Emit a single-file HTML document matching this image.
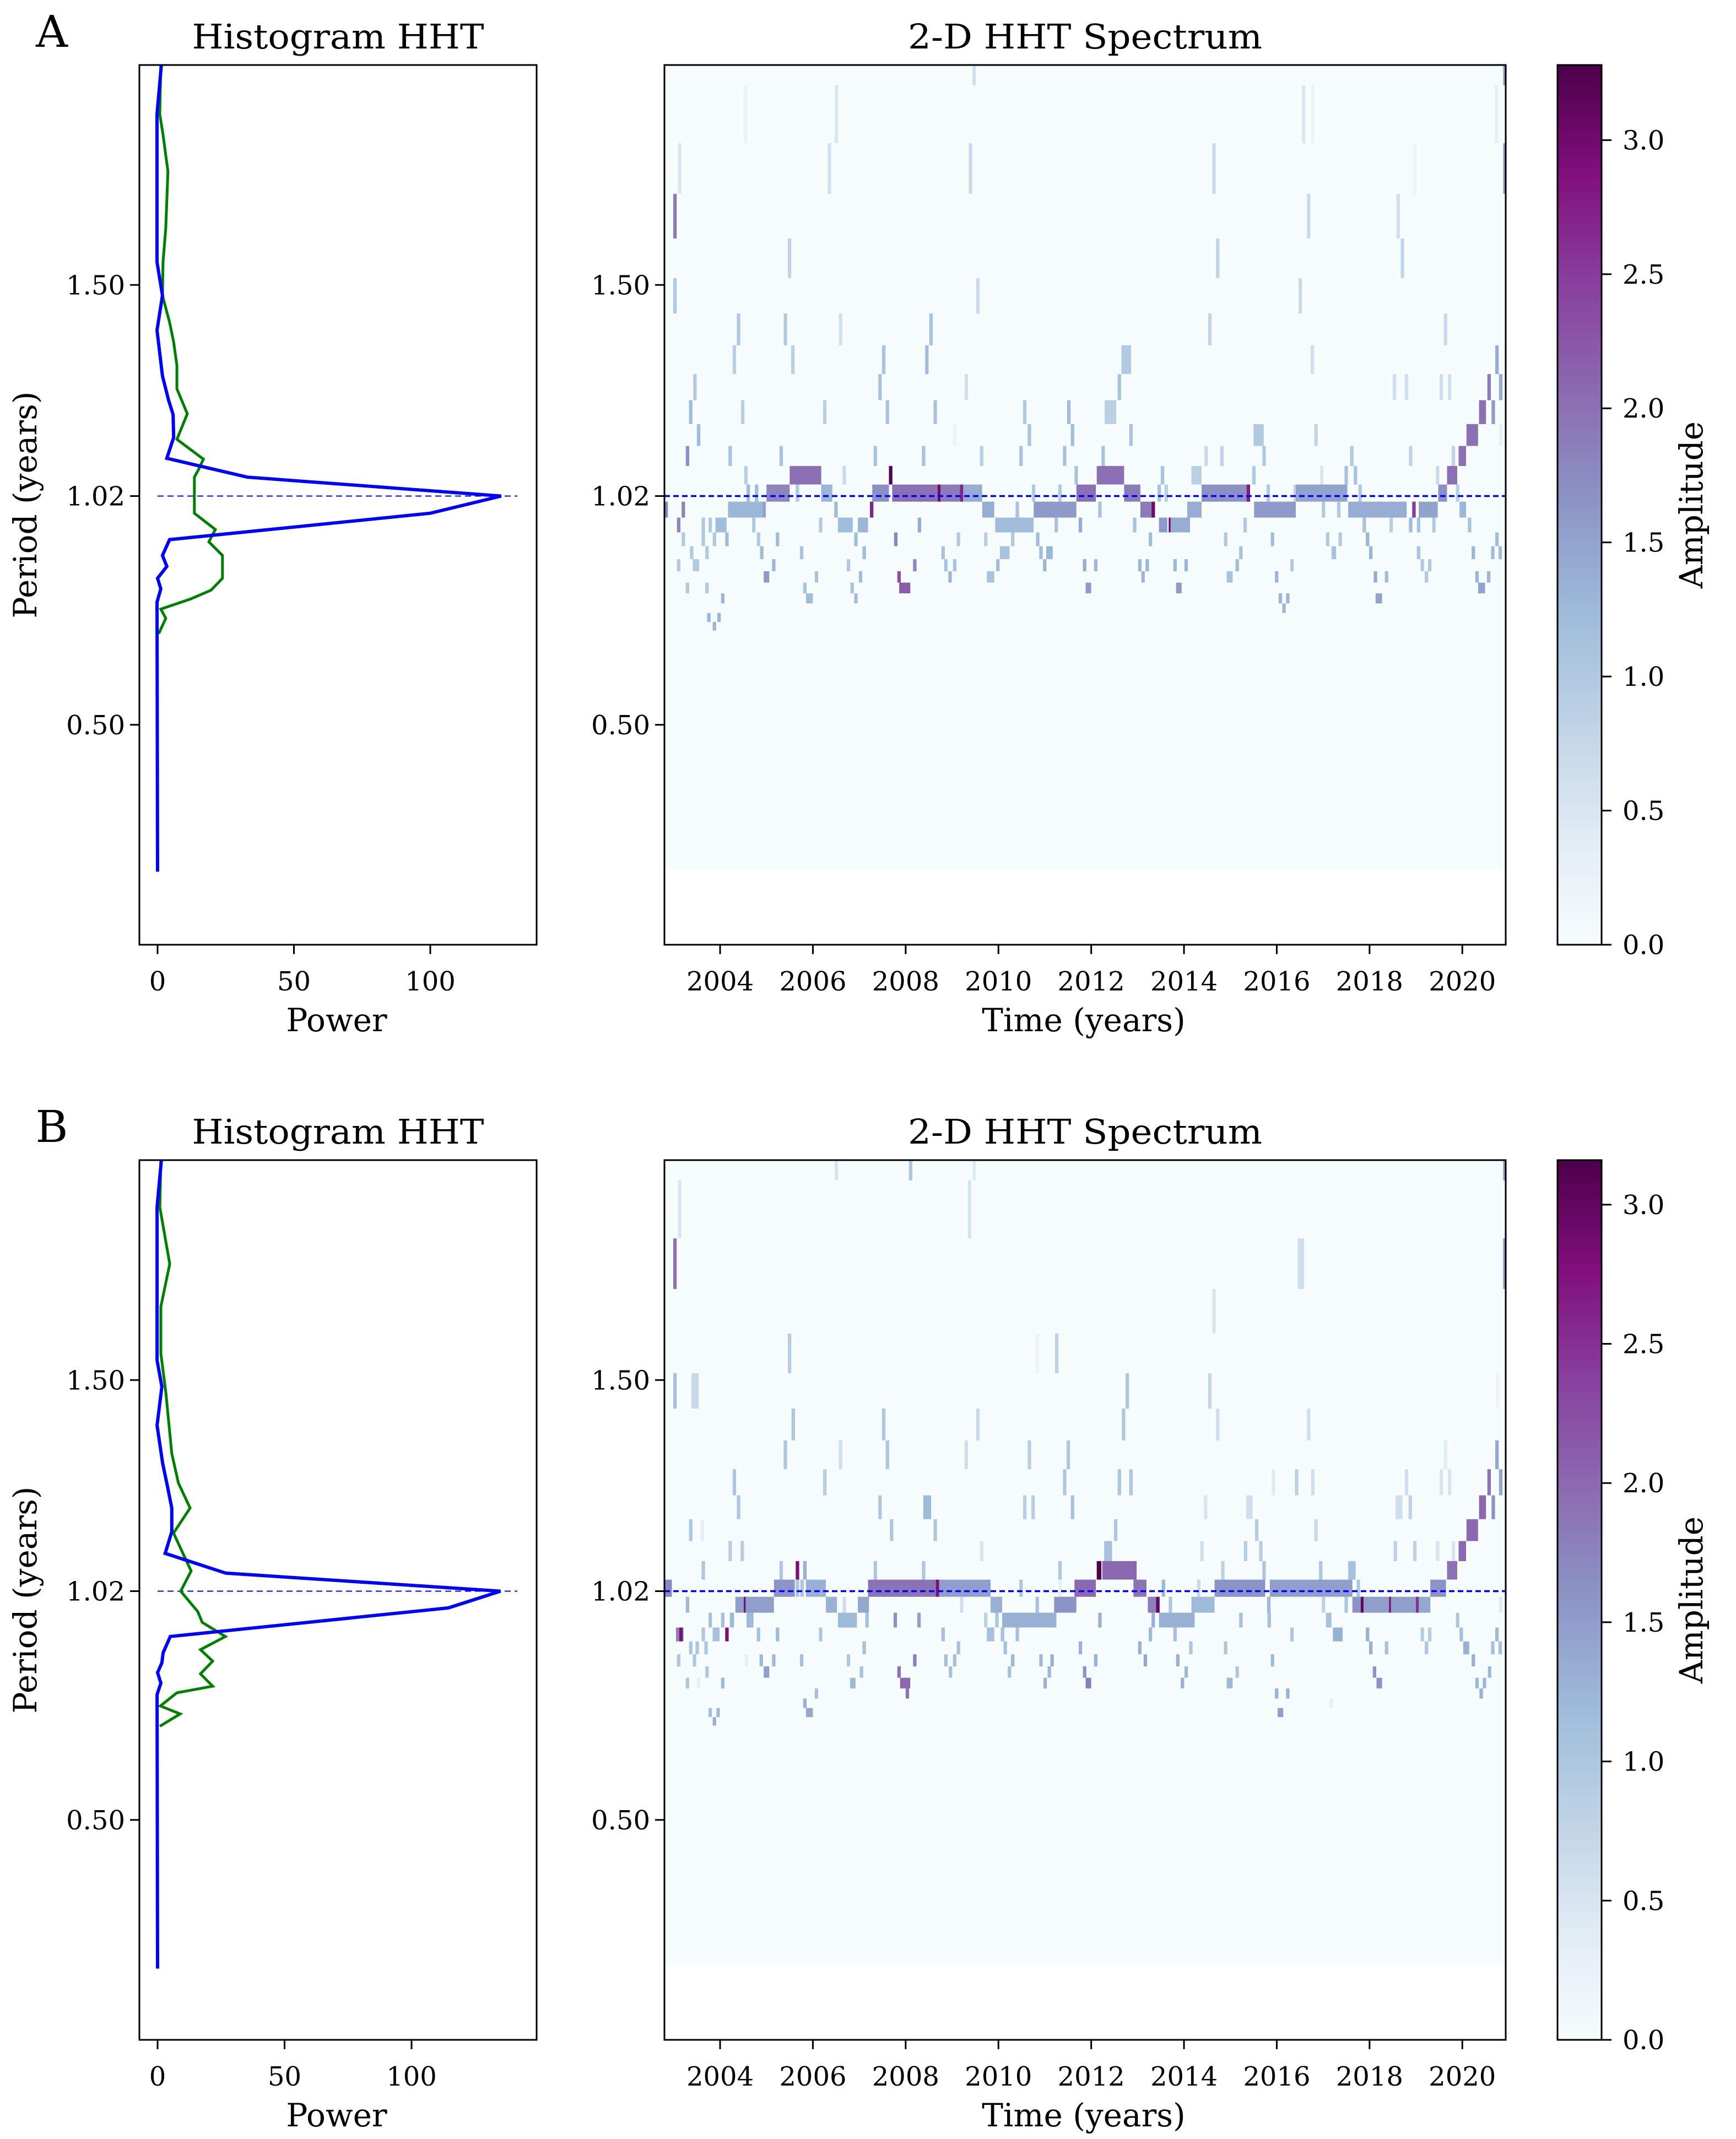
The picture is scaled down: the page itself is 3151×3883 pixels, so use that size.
<!DOCTYPE html>
<html><head><meta charset="utf-8"><title>HHT Histogram and 2-D Spectrum</title>
<style>
html,body{margin:0;padding:0;background:#fff;}
svg{display:block;font-family:"DejaVu Serif","Liberation Serif",serif;}
</style></head>
<body>
<svg id="fig" xmlns="http://www.w3.org/2000/svg" width="3151" height="3883" viewBox="0 0 3151 3883"></svg>
<script>
// ---------- data ----------
const periodTicks = [1.5, 1.02, 0.5];
const periodTickLabels = ['1.50', '1.02', '0.50'];
const powerTicks = [0, 50, 100];
const yearTicks = [2004, 2006, 2008, 2010, 2012, 2014, 2016, 2018, 2020];
const ampTicks = [0, 0.5, 1.0, 1.5, 2.0, 2.5, 3.0];
const refPeriod = 1.02;

// Histogram A
const histABlueP = [2.0,1.888,1.552,1.476,1.397,1.293,1.239,1.205,1.153,1.106,1.063,1.02,0.981,0.921,0.885,0.860,0.833,0.809,0.779,0.166];
const histABlueV = [1.4,-0.2,-0.2,1.8,-0.2,1.8,4.0,5.7,5.9,3.4,32.9,126,100,4.4,1.8,3.4,0,1.2,-0.2,0];
const histAGreenP = [2.0,1.888,1.842,1.758,1.629,1.552,1.476,1.415,1.37,1.317,1.264,1.207,1.149,1.104,1.080,1.063,0.981,0.944,0.916,0.885,0.833,0.806,0.786,0.763,0.742,0.707];
const histAGreenV = [1.2,0.8,2.0,3.8,3.0,2.0,1.8,4.4,5.9,7.1,7.1,10.9,7.1,16.8,15.0,13.5,13.5,21.2,18.8,23.8,23.8,19.6,12.1,1.2,3.0,0.4];
// Histogram B
const histBBlueP = [2.0,1.893,1.545,1.485,1.397,1.311,1.258,1.209,1.155,1.106,1.061,1.02,0.982,0.917,0.880,0.857,0.835,0.811,0.785,0.162];
const histBBlueV = [1.5,-0.2,-0.2,1.7,-0.2,2.0,3.9,5.6,5.6,3.0,26.9,135,114.5,5.0,2.2,1.7,0,1.3,-0.2,0];
const histBGreenP = [2.0,1.893,1.764,1.667,1.560,1.470,1.410,1.333,1.266,1.209,1.152,1.106,1.066,1.02,0.974,0.949,0.917,0.887,0.861,0.832,0.804,0.789,0.759,0.741,0.713];
const histBGreenV = [1.3,0.9,4.8,1.3,1.3,3.3,4.3,5.6,8.2,12.8,6.3,10.0,13.2,9.1,15.8,17.6,26.7,16.9,21.7,16.9,21.7,7.6,1.1,8.9,0.9];

// Spectrum frequency bins (cycles/yr): row r spans binF0 + r*binDF .. binF0 + (r+1)*binDF
const binF0 = 0.5118;
const binDF = 0.0370;
const spectrumMinPeriod = 0.17;

// Spectrum cells: [row, startYear, endYear (0 = single sample), amplitude]
const cellsA = [
[-1,2009.44,0,0.6],[-1,2020.88,0,1.5],
[0,2004.51,0,0.2],[0,2006.47,0,0.5],[0,2016.54,0,0.5],[0,2016.74,0,0.2],[0,2020.70,0,0.3],
[1,2003.09,0,0.5],[1,2006.32,0,0.6],[1,2009.36,0,0.7],[1,2014.61,0,0.7],[1,2018.94,0,0.2],[1,2020.88,0,1.5],
[2,2002.99,0,1.9],[2,2016.65,0,0.7],[2,2018.58,0,0.6],
[3,2005.46,0,0.8],[3,2014.69,0,0.8],[3,2018.67,0,0.8],
[4,2002.99,0,1.0],[4,2009.52,0,0.7],[4,2016.47,0,0.7],
[5,2004.36,0,1.0],[5,2005.37,0,1.0],[5,2006.56,0,0.6],[5,2008.51,0,1.1],[5,2014.52,0,0.8],[5,2019.6,0,0.7],
[6,2004.27,0,0.9],[6,2005.53,0,0.9],[6,2007.49,0,1.1],[6,2008.42,0,1.2],[6,2012.65,2012.86,1.0],[6,2016.73,0,0.6],[6,2020.71,0,1.4],
[7,2003.42,0,1.0],[7,2007.41,0,1.1],[7,2009.27,0,0.6],[7,2012.57,0,1.1],[7,2018.5,0,0.6],[7,2018.76,0,0.6],[7,2019.51,0,0.6],[7,2019.69,0,0.6],[7,2020.54,0,1.9],[7,2020.79,0,1.4],
[8,2003.33,0,1.2],[8,2004.45,0,0.9],[8,2006.22,0,0.9],[8,2007.57,0,1.1],[8,2008.6,0,1.1],[8,2010.53,0,1.0],[8,2011.48,0,1.2],[8,2012.29,2012.54,0.9],[8,2020.36,2020.51,2.0],[8,2020.63,0,1.6],
[9,2003.5,0,1.2],[9,2009.02,0,0.2],[9,2010.63,0,1.1],[9,2011.56,0,1.2],[9,2012.82,0,1.1],[9,2015.5,2015.72,1.0],[9,2016.81,0,0.8],[9,2020.09,2020.34,2.0],[9,2020.79,0,0.3],
[10,2003.26,0,1.7],[10,2004.18,0,1.1],[10,2005.28,0,1.1],[10,2007.31,0,1.1],[10,2008.35,0,1.1],[10,2009.6,0,0.9],[10,2010.45,0,1.1],[10,2011.39,0,1.1],[10,2012.22,0,1.1],[10,2014.44,0,0.7],[10,2014.78,0,0.8],[10,2015.69,0,1.0],[10,2017.58,0,1.0],[10,2018.85,0,0.8],[10,2019.77,0,0.8],[10,2019.92,2020.08,2.0],
[11,2004.52,0,0.9],[11,2005.50,2006.18,2.0],[11,2006.64,0,0.7],[11,2007.64,0,3.2],[11,2011.64,0,1.1],[11,2012.12,2012.71,2.0],[11,2013.5,0,1.1],[11,2014.16,2014.38,0.9],[11,2015.47,0,1.0],[11,2016.93,0,0.5],[11,2017.46,0,1.1],[11,2017.66,0,1.1],[11,2019.43,0,0.7],[11,2019.67,2019.89,2.0],
[12,2004.57,0,1.2],[12,2004.75,0,1.2],[12,2005.0,2005.50,1.8],[12,2005.63,0,1.0],[12,2006.18,2006.42,1.3],[12,2007.28,2007.64,1.7],[12,2007.71,2008.69,2.0],[12,2008.69,0,3.0],[12,2008.75,2009.17,1.9],[12,2009.17,0,2.7],[12,2009.24,2009.65,1.4],[12,2010.72,0,1.0],[12,2011.29,0,1.0],[12,2011.68,2012.1,2.0],[12,2012.71,2013.06,1.9],[12,2013.43,0,1.1],[12,2013.58,0,0.9],[12,2014.38,2015.35,1.7],[12,2015.35,0,2.8],[12,2015.78,0,1.0],[12,2016.36,0,0.8],[12,2016.41,2017.52,1.5],[12,2017.76,0,1.0],[12,2019.48,2019.67,1.7],[12,2019.86,0,0.9],
[13,2002.80,0,1.8],[13,2003.17,0,1.8],[13,2004.17,2004.91,1.3],[13,2004.91,0,1.5],[13,2006.46,0,1.2],[13,2007.23,0,2.7],[13,2009.65,2009.91,1.4],[13,2010.37,0,1.1],[13,2010.76,2011.68,1.6],[13,2012.15,0,1.1],[13,2013.06,2013.30,1.9],[13,2013.30,0,3.0],[13,2014.07,2014.38,1.4],[13,2015.51,2016.41,1.6],[13,2016.97,0,1.0],[13,2017.3,0,1.0],[13,2017.54,2018.80,1.4],[13,2018.92,0,2.5],[13,2019.06,2019.47,1.5],[13,2019.94,2020.08,1.3],
[14,2003.07,0,1.8],[14,2003.6,0,1.0],[14,2003.75,0,1.0],[14,2003.9,2004.14,1.2],[14,2004.69,0,1.0],[14,2006.13,0,1.0],[14,2006.54,2006.86,1.2],[14,2006.97,2007.19,1.3],[14,2008.26,0,1.4],[14,2009.93,2010.76,1.2],[14,2011.21,0,1.1],[14,2011.73,0,1.4],[14,2012.9,0,1.1],[14,2013.46,2013.64,1.6],[14,2013.67,0,3.0],[14,2013.71,2014.13,1.4],[14,2015.28,0,1.0],[14,2017.85,0,1.1],[14,2018.43,0,0.9],[14,2018.85,0,1.2],[14,2019.02,0,1.1],[14,2019.35,0,1.0],[14,2020.12,0,1.1],
[15,2003.17,0,1.0],[15,2003.6,0,1.0],[15,2003.84,0,1.0],[15,2004.11,0,1.2],[15,2004.79,0,1.0],[15,2005.2,0,1.2],[15,2006.89,0,1.2],[15,2007.75,0,1.8],[15,2009.1,0,1.0],[15,2009.69,0,0.9],[15,2010.27,0,1.0],[15,2010.81,0,1.2],[15,2013.24,0,1.2],[15,2014.86,0,1.0],[15,2015.87,0,1.2],[15,2017.06,0,1.0],[15,2017.33,0,1.0],[15,2017.92,0,1.3],[15,2020.71,0,1.2],
[16,2003.35,0,1.0],[16,2003.68,0,1.0],[16,2004.86,0,1.2],[16,2005.72,0,1.1],[16,2007.07,0,1.2],[16,2008.77,0,1.1],[16,2010.03,2010.24,1.1],[16,2010.88,0,1.2],[16,2011.03,2011.17,1.3],[16,2015.19,0,1.1],[16,2017.18,2017.28,1.1],[16,2017.99,0,1.3],[16,2019.02,0,1.1],[16,2020.2,0,1.3],[16,2020.62,0,1.2],[16,2020.78,0,1.2],
[17,2003.07,0,1.0],[17,2003.41,2003.55,1.0],[17,2005.12,0,1.3],[17,2006.73,0,1.0],[17,2008.16,0,1.8],[17,2008.83,0,1.1],[17,2009.02,0,1.1],[17,2009.95,0,1.2],[17,2010.96,0,1.3],[17,2011.82,0,1.4],[17,2012.06,0,1.3],[17,2013.01,0,1.3],[17,2013.17,0,1.3],[17,2013.77,0,1.3],[17,2014.01,0,1.3],[17,2015.11,0,1.2],[17,2016.29,0,1.0],[17,2019.1,0,1.0],[17,2019.26,0,1.0],
[18,2004.94,2005.06,1.6],[18,2006.04,0,1.1],[18,2006.99,0,1.2],[18,2007.82,0,2.3],[18,2008.92,0,1.3],[18,2009.75,2009.91,1.1],[18,2013.08,0,1.3],[18,2014.92,2015.05,1.1],[18,2015.96,0,1.3],[18,2018.09,0,1.4],[18,2018.33,0,1.2],[18,2019.19,0,1.0],[18,2020.28,0,1.3],[18,2020.53,0,1.3],
[19,2003.26,0,1.0],[19,2003.68,0,1.0],[19,2005.79,0,1.1],[19,2006.81,0,1.1],[19,2007.86,2008.1,2.2],[19,2011.88,2012.0,1.6],[19,2013.83,2013.95,1.6],[19,2020.34,2020.49,1.5],
[20,2004.02,0,1.3],[20,2005.85,2006.0,1.2],[20,2006.89,0,1.2],[20,2016.04,0,1.3],[20,2016.2,0,1.3],[20,2018.13,2018.27,1.5],
[21,2016.12,0,1.3],
[22,2003.72,0,1.3],[22,2003.94,0,1.3],
[23,2003.84,0,1.3]
];
const cellsB = [
[-1,2006.47,0,0.5],[-1,2008.07,0,1.0],[-1,2009.44,0,0.4],[-1,2020.88,0,1.5],
[0,2003.09,0,0.5],[0,2009.34,0,0.5],
[1,2002.99,0,1.9],[1,2016.45,2016.59,0.6],[1,2020.88,0,1.5],
[2,2014.61,0,0.5],
[3,2005.46,0,0.9],[3,2010.8,0,0.2],[3,2011.22,0,0.8],
[4,2002.99,0,1.1],[4,2003.38,2003.54,0.7],[4,2012.74,0,1.0],[4,2014.52,0,0.7],[4,2020.72,0,0.2],
[5,2005.54,0,1.0],[5,2007.49,0,1.0],[5,2009.52,0,0.7],[5,2012.66,0,1.0],[5,2014.69,0,0.6],[5,2016.65,0,0.6],
[6,2005.37,0,1.0],[6,2006.56,0,0.6],[6,2007.57,0,1.0],[6,2009.27,0,0.6],[6,2010.63,0,0.9],[6,2011.47,0,1.0],[6,2019.6,0,0.4],[6,2020.71,0,1.4],
[7,2004.27,0,1.0],[7,2006.22,0,0.9],[7,2011.39,0,1.0],[7,2012.57,0,1.0],[7,2012.82,0,1.0],[7,2015.89,0,0.4],[7,2016.39,0,0.8],[7,2016.74,0,0.6],[7,2018.76,0,0.6],[7,2019.51,0,0.5],[7,2019.69,0,0.5],[7,2020.54,0,1.9],[7,2020.79,0,1.4],
[8,2004.36,0,1.0],[8,2007.41,0,1.0],[8,2008.38,2008.55,1.2],[8,2010.53,0,0.9],[8,2010.71,0,0.9],[8,2011.56,0,1.1],[8,2014.43,0,0.5],[8,2015.34,2015.48,0.6],[8,2018.56,2018.71,0.6],[8,2018.84,0,0.8],[8,2020.36,2020.51,2.0],[8,2020.63,0,1.6],
[9,2003.33,0,1.0],[9,2003.58,0,0.3],[9,2007.66,0,1.0],[9,2008.6,0,1.0],[9,2012.49,0,1.0],[9,2015.53,0,0.9],[9,2016.81,0,0.7],[9,2020.09,2020.34,2.0],
[10,2004.18,0,0.9],[10,2004.44,0,0.9],[10,2009.6,0,0.5],[10,2012.28,2012.45,1.1],[10,2014.35,0,0.6],[10,2015.29,0,0.9],[10,2015.62,0,0.9],[10,2018.52,0,0.8],[10,2018.94,0,0.8],[10,2019.43,0,0.5],[10,2019.77,0,0.5],[10,2019.92,2020.08,2.0],
[11,2003.6,0,1.0],[11,2005.28,0,1.0],[11,2005.63,0,2.8],[11,2005.79,0,1.3],[11,2007.31,0,1.0],[11,2008.35,0,1.0],[11,2011.29,0,1.0],[11,2012.12,2012.22,3.2],[11,2012.24,2012.98,2.0],[11,2014.8,0,0.8],[11,2015.69,0,1.0],[11,2016.91,0,1.0],[11,2017.54,2017.7,1.1],[11,2019.67,2019.89,1.9],
[12,2002.80,2002.96,1.7],[12,2005.16,2005.61,1.6],[12,2005.63,0,1.0],[12,2005.73,0,1.0],[12,2005.85,2006.28,1.3],[12,2007.19,2008.65,1.9],[12,2008.65,0,2.8],[12,2008.72,2009.83,1.5],[12,2010.45,0,1.0],[12,2011.29,0,0.3],[12,2011.64,2012.1,2.0],[12,2012.91,2013.19,1.9],[12,2013.52,0,1.2],[12,2014.28,0,0.7],[12,2014.66,2015.75,1.6],[12,2015.85,2017.63,1.5],[12,2017.72,0,1.0],[12,2019.31,2019.65,1.6],
[13,2003.26,0,1.2],[13,2004.33,2004.51,1.5],[13,2004.51,0,2.8],[13,2004.55,2005.16,1.5],[13,2006.28,2006.52,1.3],[13,2006.64,0,0.6],[13,2006.97,2007.21,1.4],[13,2009.17,0,0.6],[13,2009.83,2010.08,1.3],[13,2010.8,0,1.1],[13,2011.2,2011.68,1.6],[13,2013.22,2013.4,1.8],[13,2013.4,0,3.0],[13,2013.67,0,1.0],[13,2014.16,2014.66,1.2],[13,2015.79,0,1.2],[13,2016.97,0,0.8],[13,2017.46,0,1.0],[13,2017.63,2017.81,1.6],[13,2017.81,0,3.0],[13,2017.87,2018.42,1.5],[13,2018.42,0,2.8],[13,2018.46,2019.0,1.5],[13,2019.0,0,2.5],[13,2019.06,2019.31,1.4],[13,2020.79,0,0.4],
[14,2003.75,0,1.1],[14,2004.02,0,1.1],[14,2004.21,2004.3,1.2],[14,2004.57,2004.72,1.2],[14,2006.54,2006.95,1.2],[14,2007.13,0,1.1],[14,2007.74,0,1.6],[14,2008.25,0,1.5],[14,2009.69,0,0.8],[14,2009.93,0,1.0],[14,2010.08,2011.25,1.3],[14,2012.15,0,1.3],[14,2013.3,0,1.3],[14,2013.46,2014.23,1.3],[14,2015.19,0,1.1],[14,2015.8,0,1.1],[14,2017.06,2017.18,1.1],[14,2019.86,0,1.0],
[15,2003.05,2003.21,1.8],[15,2003.12,0,2.8],[15,2003.6,0,1.0],[15,2003.84,2003.99,1.1],[15,2004.11,0,2.8],[15,2004.79,0,1.1],[15,2005.2,0,1.2],[15,2006.13,0,1.0],[15,2008.77,0,1.1],[15,2009.75,2009.91,1.1],[15,2010.05,0,1.1],[15,2010.37,0,1.1],[15,2013.24,0,1.2],[15,2013.77,0,1.1],[15,2016.29,0,1.0],[15,2017.21,2017.42,1.3],[15,2017.92,0,1.3],[15,2019.1,0,0.9],[15,2019.26,0,0.9],[15,2019.94,0,1.1],[15,2020.71,0,1.2],
[16,2003.33,0,1.0],[16,2003.47,0,1.0],[16,2003.66,0,1.0],[16,2007.07,0,1.1],[16,2009.1,0,1.1],[16,2010.11,0,1.1],[16,2011.73,0,1.3],[16,2013.01,0,1.3],[16,2014.11,0,1.0],[16,2014.86,0,1.0],[16,2017.99,0,1.3],[16,2018.33,0,1.1],[16,2019.19,0,1.0],[16,2020.02,2020.15,1.3],[16,2020.62,0,1.1],[16,2020.78,0,1.1],
[17,2003.07,0,1.0],[17,2003.41,0,1.0],[17,2004.53,0,0.3],[17,2004.85,0,1.2],[17,2005.12,0,1.2],[17,2005.72,0,1.1],[17,2006.73,0,1.0],[17,2008.16,0,1.8],[17,2008.83,0,1.1],[17,2009.02,0,1.1],[17,2010.27,0,1.2],[17,2010.88,0,1.2],[17,2011.12,0,1.3],[17,2012.06,0,1.3],[17,2013.13,0,1.4],[17,2013.83,0,1.3],[17,2015.87,0,1.2],[17,2020.2,0,1.3],
[18,2003.68,0,1.0],[18,2004.94,2005.06,1.5],[18,2007.01,0,1.1],[18,2007.82,0,1.9],[18,2008.93,0,1.1],[18,2010.2,0,1.1],[18,2011.06,0,1.2],[18,2011.82,0,1.6],[18,2014.01,0,1.2],[18,2015.11,0,1.0],[18,2018.07,0,1.6],[18,2020.55,0,1.2],
[19,2003.26,0,1.0],[19,2003.5,0,0.3],[19,2004.02,0,1.2],[19,2006.8,2006.92,1.2],[19,2007.88,2008.1,2.0],[19,2010.97,0,1.3],[19,2011.88,2012.0,1.8],[19,2013.93,0,1.3],[19,2014.92,2015.05,1.2],[19,2018.15,2018.27,1.6],[19,2020.28,0,1.2],[19,2020.44,0,1.2],
[20,2006.04,0,1.1],[20,2008.0,0,1.9],[20,2015.96,0,1.3],[20,2016.2,0,1.3],[20,2020.37,0,1.3],
[21,2005.79,0,1.3],[21,2017.14,0,0.3],
[22,2003.75,0,1.1],[22,2003.92,0,1.2],[22,2005.85,2006.0,1.4],[22,2016.02,2016.14,1.5],
[23,2003.84,0,1.3]
];

// ---------- layout ----------
const NS = 'http://www.w3.org/2000/svg';
const svg = document.getElementById('fig');
const BUPU = ['#f7fcfd','#e0ecf4','#bfd3e6','#9ebcda','#8c96c6','#8c6bb1','#88419d','#810f7c','#4d004b'];
function hex(c){return [parseInt(c.substr(1,2),16),parseInt(c.substr(3,2),16),parseInt(c.substr(5,2),16)];}
function cmap(t){
  t = Math.max(0, Math.min(1, t));
  const s = t * (BUPU.length - 1), i = Math.min(Math.floor(s), BUPU.length - 2), f = s - i;
  const a = hex(BUPU[i]), b = hex(BUPU[i+1]);
  return 'rgb(' + a.map((v,k)=>Math.round(v + (b[k]-v)*f)).join(',') + ')';
}
function el(tag, attrs, parent, text){
  const e = document.createElementNS(NS, tag);
  for (const k in attrs) e.setAttribute(k, attrs[k]);
  if (text !== undefined) e.textContent = text;
  (parent || svg).appendChild(e);
  return e;
}

const HX0 = 253, HX1 = 974;     // histogram axes x
const SX0 = 1206, SX1 = 2733;   // spectrum axes x
const CX0 = 2827, CX1 = 2907;   // colorbar x
const AX_H = 1597;              // axes height
const TICK_FS = 48, LABEL_FS = 58, TITLE_FS = 62;

const panels = [
  {letter:'A', top:118, vmax:3.28, pZero:286, pScale:4.95, cells:cellsA,
   blueP:histABlueP, blueV:histABlueV, greenP:histAGreenP, greenV:histAGreenV},
  {letter:'B', top:2106, vmax:3.16, pZero:286, pScale:4.61, cells:cellsB,
   blueP:histBBlueP, blueV:histBBlueV, greenP:histBGreenP, greenV:histBGreenV}
];

// gradient for colorbar
const defs = el('defs', {});
const grad = el('linearGradient', {id:'bupu', x1:'0', y1:'1', x2:'0', y2:'0'}, defs);
BUPU.forEach((c,i)=>{ el('stop', {offset:(i/(BUPU.length-1)).toFixed(4), 'stop-color':c}, grad); });

panels.forEach((P, pi) => {
  const top = P.top, bot = top + AX_H;
  const yOf = per => top + (2 - per) * (AX_H / 2);
  const xYear = yr => SX0 + (yr - 2002.8) * 84.2;
  const xPow = v => P.pZero + v * P.pScale;
  const id = P.letter.toLowerCase();

  const g = el('g', {});
  
  

  // panel letter
  const lt = el('text', {x:94, y:top - 33, 'font-size':80, 'text-anchor':'middle'}, g, P.letter);
  
  

  // ---------- histogram ----------
  const hg = el('g', {}, g);
  
  
  const ht = el('text', {x:(HX0+HX1)/2, y:top - 30, 'font-size':TITLE_FS, 'text-anchor':'middle', textLength:530, lengthAdjust:'spacingAndGlyphs'}, hg, 'Histogram HHT');
  
  

  const clipId = 'hclip' + id;
  const cp = el('clipPath', {id:clipId}, defs);
  el('rect', {x:HX0, y:top, width:HX1-HX0, height:AX_H}, cp);

  const dl = el('line', {x1:xPow(0), x2:939, y1:yOf(refPeriod), y2:yOf(refPeriod), stroke:'#0000ff', 'stroke-width':2, 'stroke-dasharray':'11 7'}, hg);
  
  

  const gp = el('polyline', {points:P.greenP.map((p,i)=>xPow(P.greenV[i]).toFixed(1)+','+yOf(p).toFixed(1)).join(' '), fill:'none', stroke:'#008000', 'stroke-width':5, 'stroke-linejoin':'miter', 'clip-path':'url(#'+clipId+')'}, hg);
  
  
  const bp = el('polyline', {points:P.blueP.map((p,i)=>xPow(P.blueV[i]).toFixed(1)+','+yOf(p).toFixed(1)).join(' '), fill:'none', stroke:'#0000ff', 'stroke-width':6, 'stroke-linejoin':'miter', 'clip-path':'url(#'+clipId+')'}, hg);
  
  

  const hf = el('rect', {x:HX0, y:top, width:HX1-HX0, height:AX_H, fill:'none', stroke:'#000', 'stroke-width':3}, hg);
  
  

  periodTicks.forEach((pt,i)=>{
    const y = yOf(pt);
    el('line', {x1:HX0-17, x2:HX0, y1:y, y2:y, stroke:'#000', 'stroke-width':3}, hg);
    const t = el('text', {x:HX0-26, y:y+17, 'font-size':TICK_FS, 'text-anchor':'end'}, hg, periodTickLabels[i]);
    
    
  });
  powerTicks.forEach(v=>{
    const x = xPow(v);
    el('line', {x1:x, x2:x, y1:bot, y2:bot+17, stroke:'#000', 'stroke-width':3}, hg);
    const t = el('text', {x:x, y:bot+83, 'font-size':TICK_FS, 'text-anchor':'middle'}, hg, String(v));
    
    
  });
  const xl = el('text', {x:611, y:bot+157, 'font-size':LABEL_FS, 'text-anchor':'middle'}, hg, 'Power');
  
  
  const yl = el('text', {x:0, y:0, 'font-size':LABEL_FS, 'text-anchor':'middle', transform:'translate(66,'+(top+AX_H/2)+') rotate(-90)'}, hg, 'Period (years)');
  
  

  // ---------- spectrum ----------
  const sg = el('g', {}, g);
  
  
  const st = el('text', {x:(SX0+SX1)/2, y:top - 30, 'font-size':TITLE_FS, 'text-anchor':'middle', textLength:643, lengthAdjust:'spacingAndGlyphs'}, sg, '2-D HHT Spectrum');
  
  

  const sclip = 'sclip' + id;
  const scp = el('clipPath', {id:sclip}, defs);
  el('rect', {x:SX0, y:top, width:SX1-SX0, height:AX_H}, scp);
  const cellsG = el('g', {'clip-path':'url(#'+sclip+')'}, sg);
  const bg = el('rect', {x:SX0, y:top, width:SX1-SX0, height:yOf(spectrumMinPeriod)-top, fill:BUPU[0]}, cellsG);
  
  

  P.cells.forEach(c=>{
    const row = c[0], f1 = binF0 + row*binDF, f2 = binF0 + (row+1)*binDF;
    const y1 = yOf(1/f1), y2 = yOf(1/f2);
    const x1 = xYear(c[1]);
    const x2 = c[2] ? xYear(c[2]) : xYear(c[1] + 0.075);
    const r = el('rect', {x:x1.toFixed(1), y:y1.toFixed(1), width:Math.max(2,(x2-x1)).toFixed(1), height:(y2-y1).toFixed(1), fill:cmap(c[3]/P.vmax)}, cellsG);
    
    
  });

  const sl = el('line', {x1:SX0, x2:SX1, y1:yOf(refPeriod), y2:yOf(refPeriod), stroke:'#0000ff', 'stroke-width':3.5, 'stroke-dasharray':'10 6'}, sg);
  
  

  const sf = el('rect', {x:SX0, y:top, width:SX1-SX0, height:AX_H, fill:'none', stroke:'#000', 'stroke-width':3}, sg);
  
  

  periodTicks.forEach((pt,i)=>{
    const y = yOf(pt);
    el('line', {x1:SX0-17, x2:SX0, y1:y, y2:y, stroke:'#000', 'stroke-width':3}, sg);
    const t = el('text', {x:SX0-26, y:y+17, 'font-size':TICK_FS, 'text-anchor':'end'}, sg, periodTickLabels[i]);
    
    
  });
  yearTicks.forEach(yr=>{
    const x = xYear(yr);
    el('line', {x1:x, x2:x, y1:bot, y2:bot+17, stroke:'#000', 'stroke-width':3}, sg);
    const t = el('text', {x:x, y:bot+83, 'font-size':TICK_FS, 'text-anchor':'middle'}, sg, String(yr));
    
    
  });
  const tl = el('text', {x:1967, y:bot+157, 'font-size':LABEL_FS, 'text-anchor':'middle'}, sg, 'Time (years)');
  
  

  // ---------- colorbar ----------
  const cg = el('g', {}, g);
  
  
  const cb = el('rect', {x:CX0, y:top, width:CX1-CX0, height:AX_H, fill:'url(#bupu)', stroke:'#000', 'stroke-width':3}, cg);
  
  
  ampTicks.forEach(v=>{
    const y = bot - v / P.vmax * AX_H;
    el('line', {x1:CX1, x2:CX1+18, y1:y, y2:y, stroke:'#000', 'stroke-width':3}, cg);
    const t = el('text', {x:CX1+38, y:y+17, 'font-size':TICK_FS}, cg, v.toFixed(1));
    
    
  });
  const al = el('text', {x:0, y:0, 'font-size':LABEL_FS, 'text-anchor':'middle', transform:'translate(3090,'+(top+AX_H/2)+') rotate(-90)'}, cg, 'Amplitude');
  
  
});
</script>
</body></html>
